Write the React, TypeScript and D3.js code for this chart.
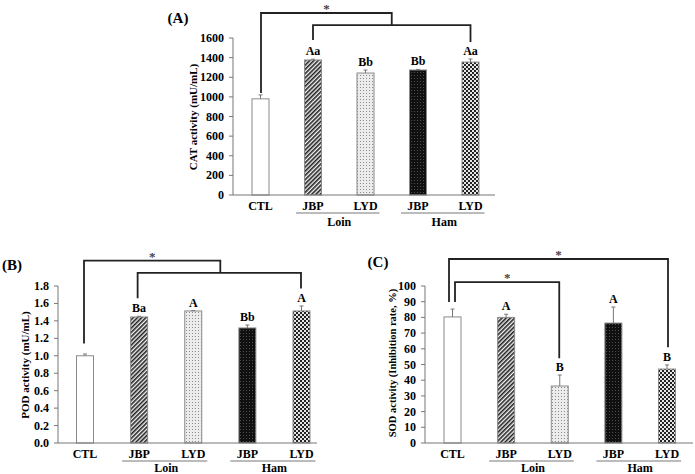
import React from "react";
import * as d3 from "d3";

// ---------- data ----------
const categories = ["CTL", "JBP", "LYD", "JBP", "LYD"];
const groupNames = ["Loin", "Ham"];
const groupFrom = [1, 3];
const groupTo = [2, 4];

const catValues = [980, 1376, 1243, 1274, 1355];
const catErrors = [40, 8, 31, 6, 31];
const catLetters = ["", "Aa", "Bb", "Bb", "Aa"];
const catTicks = [0, 200, 400, 600, 800, 1000, 1200, 1400, 1600];

const podValues = [1.0, 1.445, 1.514, 1.319, 1.514];
const podErrors = [0.02, 0.008, 0.004, 0.034, 0.057];
const podLetters = ["", "Ba", "A", "Bb", "A"];
const podTicks = [0, 0.2, 0.4, 0.6, 0.8, 1.0, 1.2, 1.4, 1.6, 1.8];

const sodValues = [80.3, 80.0, 36.3, 76.4, 47.1];
const sodErrors = [5.0, 2.0, 7.0, 10.2, 2.6];
const sodLetters = ["", "A", "B", "A", "B"];
const sodTicks = [0, 10, 20, 30, 40, 50, 60, 70, 80, 90, 100];

type Bracket = {
  top: number;
  left: { i: number; dx: number; bottom: number };
  right: { i: number; j?: number; dx: number; bottom: number };
  star: boolean;
};

const catBrackets: Bracket[] = [
  { top: 1855, left: { i: 0, dx: 0.5, bottom: 1040 }, right: { i: 1, j: 4, dx: 0, bottom: 1732 }, star: true },
  { top: 1732, left: { i: 1, dx: 0, bottom: 1580 }, right: { i: 4, dx: 0, bottom: 1560 }, star: false },
];
const podBrackets: Bracket[] = [
  { top: 2.09, left: { i: 0, dx: -1, bottom: 1.14 }, right: { i: 1, j: 4, dx: 0, bottom: 1.95 }, star: true },
  { top: 1.95, left: { i: 1, dx: -1.5, bottom: 1.66 }, right: { i: 4, dx: -0.5, bottom: 1.77 }, star: false },
];
const sodBrackets: Bracket[] = [
  { top: 117.2, left: { i: 0, dx: -3.5, bottom: 89.8 }, right: { i: 4, dx: 1, bottom: 61 }, star: true },
  { top: 102.5, left: { i: 0, dx: 2.5, bottom: 89.8 }, right: { i: 2, dx: -0.5, bottom: 54 }, star: true },
];

const fills = ["#ffffff", "url(#pDiag)", "url(#pDots)", "url(#pBlack)", "url(#pCheck)"];

const FONT = "'Liberation Serif', 'Times New Roman', serif";

type PanelProps = {
  label: string;
  labelX: number;
  labelY: number;
  title: string;
  titleX: number;
  titleY: number;
  titleSize: number;
  values: number[];
  errors: number[];
  letters: string[];
  ticks: number[];
  tickFmt: (v: number) => string;
  yMax: number;
  axisX0: number;
  axisX1: number;
  y0: number;
  yTop: number;
  c0: number;
  c1: number;
  groupDy: number;
  brackets: Bracket[];
};

function Panel(p: PanelProps) {
  const y = d3.scaleLinear().domain([0, p.yMax]).range([p.y0, p.yTop]);
  const x = d3.scaleLinear().domain([0, categories.length - 1]).range([p.c0, p.c1]);
  const bw = 17;
  return (
    <g fontFamily={FONT} fontWeight="bold">
      <text x={p.labelX} y={p.labelY} fontSize={15} textAnchor="middle" dominantBaseline="central">
        {p.label}
      </text>
      <text
        transform={`translate(${p.titleX},${p.titleY}) rotate(-90)`}
        fontSize={p.titleSize}
        textAnchor="middle"
        dominantBaseline="central"
      >
        {p.title}
      </text>
      {/* y axis */}
      <line x1={p.axisX0} x2={p.axisX0} y1={p.y0} y2={y(p.yMax)} stroke="#777" strokeWidth={1} />
      {p.ticks.map((t) => (
        <g key={t}>
          <line x1={p.axisX0 - 4} x2={p.axisX0} y1={y(t)} y2={y(t)} stroke="#777" strokeWidth={1} />
          <text x={p.axisX0 - 9} y={y(t)} fontSize={12} textAnchor="end" dominantBaseline="central">
            {p.tickFmt(t)}
          </text>
        </g>
      ))}
      {/* bars */}
      {p.values.map((v, i) => (
        <g key={i}>
          <rect
            x={x(i) - bw / 2}
            y={y(v)}
            width={bw}
            height={p.y0 - y(v)}
            fill={fills[i]}
            stroke="#8a8a8a"
            strokeWidth={1}
          />
          <line x1={x(i)} x2={x(i)} y1={y(v)} y2={y(v + p.errors[i])} stroke="#777" strokeWidth={1} />
          <line x1={x(i) - 2} x2={x(i) + 2} y1={y(v + p.errors[i])} y2={y(v + p.errors[i])} stroke="#777" strokeWidth={1} />
          {p.letters[i] && (
            <text x={x(i)} y={y(v + p.errors[i]) - 4} fontSize={12} textAnchor="middle">
              {p.letters[i]}
            </text>
          )}
          <text x={x(i)} y={p.y0 + 11} fontSize={12} textAnchor="middle" dominantBaseline="central">
            {categories[i]}
          </text>
        </g>
      ))}
      {/* x axis */}
      <line x1={p.axisX0} x2={p.axisX1} y1={p.y0} y2={p.y0} stroke="#777" strokeWidth={1} />
      {/* groups */}
      {groupNames.map((g, k) => (
        <g key={g}>
          <line
            x1={x(groupFrom[k]) - 17}
            x2={x(groupTo[k]) + 14}
            y1={p.y0 + 18}
            y2={p.y0 + 18}
            stroke="#555"
            strokeWidth={0.8}
          />
          <text
            x={(x(groupFrom[k]) + x(groupTo[k])) / 2}
            y={p.y0 + p.groupDy}
            fontSize={12}
            textAnchor="middle"
            dominantBaseline="central"
          >
            {g}
          </text>
        </g>
      ))}
      {/* brackets */}
      {p.brackets.map((b, k) => {
        const lx = x(b.left.i) + b.left.dx;
        const rx = b.right.j !== undefined ? (x(b.right.i) + x(b.right.j)) / 2 : x(b.right.i) + b.right.dx;
        const ty = y(b.top);
        return (
          <g key={k}>
            <path
              d={`M${lx},${y(b.left.bottom)}V${ty}H${rx}V${y(b.right.bottom)}`}
              fill="none"
              stroke="#222"
              strokeWidth={1.8}
            />
            {b.star && (
              <text x={(lx + rx) / 2} y={ty} fontSize={13} fontWeight="bold" fill="#444" textAnchor="middle">
                *
              </text>
            )}
          </g>
        );
      })}
    </g>
  );
}

export default function App() {
  return (
    <svg width={695} height={474} style={{ position: "absolute", left: 0, top: 0, background: "#fff" }}>
      <defs>
        <pattern id="pDiag" patternUnits="userSpaceOnUse" width={3} height={3} patternTransform="rotate(45)">
          <rect width={3} height={3} fill="#f4f4f4" />
          <rect width={1.6} height={3} fill="#222" />
        </pattern>
        <pattern id="pDots" patternUnits="userSpaceOnUse" width={3} height={3}>
          <rect width={3} height={3} fill="#ececec" />
          <rect width={1} height={1} fill="#8c8c8c" />
        </pattern>
        <pattern id="pBlack" patternUnits="userSpaceOnUse" width={3} height={3}>
          <rect width={3} height={3} fill="#101010" />
          <rect width={1} height={1} fill="#505050" />
        </pattern>
        <pattern id="pCheck" patternUnits="userSpaceOnUse" width={4} height={4}>
          <rect width={4} height={4} fill="#e6e6e6" />
          <rect width={2} height={2} fill="#222" />
          <rect x={2} y={2} width={2} height={2} fill="#222" />
        </pattern>
      </defs>
      <rect width={695} height={474} fill="#fff" />
      <Panel
        label="(A)"
        labelX={178}
        labelY={18}
        title="CAT activity (mU/mL)"
        titleX={193}
        titleY={117}
        titleSize={11}
        values={catValues}
        errors={catErrors}
        letters={catLetters}
        ticks={catTicks}
        tickFmt={(v) => String(v)}
        yMax={1600}
        axisX0={233}
        axisX1={495}
        y0={195}
        yTop={38}
        c0={260.5}
        c1={470.5}
        groupDy={27}
        brackets={catBrackets}
      />
      <Panel
        label="(B)"
        labelX={12}
        labelY={265}
        title="POD activity (mU/mL)"
        titleX={25}
        titleY={365}
        titleSize={11}
        values={podValues}
        errors={podErrors}
        letters={podLetters}
        ticks={podTicks}
        tickFmt={(v) => d3.format(".1f")(v)}
        yMax={1.8}
        axisX0={58}
        axisX1={317}
        y0={443}
        yTop={286}
        c0={85}
        c1={301.5}
        groupDy={24.5}
        brackets={podBrackets}
      />
      <Panel
        label="(C)"
        labelX={378}
        labelY={262}
        title="SOD activity (Inhibition rate, %)"
        titleX={392}
        titleY={363}
        titleSize={10.5}
        values={sodValues}
        errors={sodErrors}
        letters={sodLetters}
        ticks={sodTicks}
        tickFmt={(v) => String(v)}
        yMax={100}
        axisX0={425}
        axisX1={693}
        y0={443}
        yTop={286}
        c0={452.5}
        c1={667}
        groupDy={24.5}
        brackets={sodBrackets}
      />
    </svg>
  );
}
